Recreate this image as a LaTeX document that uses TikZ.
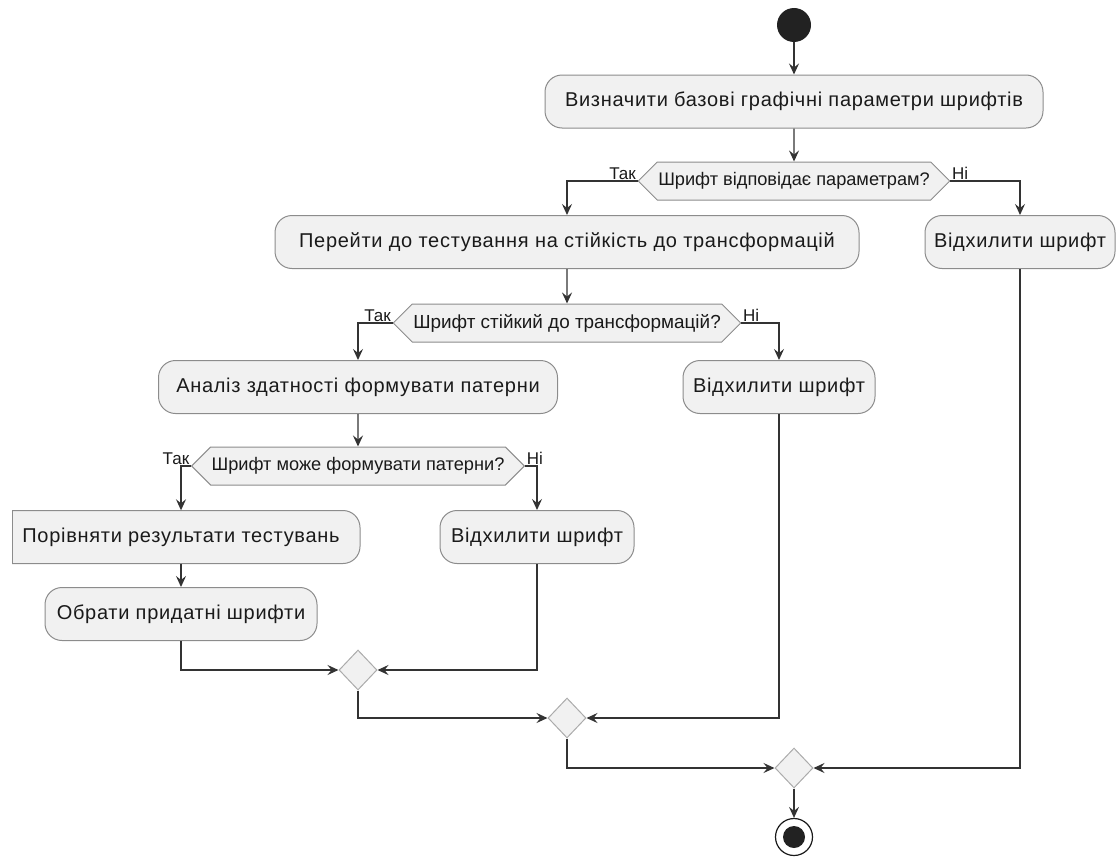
\documentclass[tikz,border=0pt]{standalone}
\usepackage{fontspec}
\setmainfont{Liberation Sans}
\newfontfamily\boxfont{Liberation Sans}[LetterSpace=3.5]
\usetikzlibrary{arrows.meta,shapes.symbols,shapes.geometric}
\definecolor{boxfill}{HTML}{F1F1F1}
\definecolor{boxline}{HTML}{8C8C8C}
\definecolor{mrgline}{HTML}{ABABAB}
\definecolor{lnk}{HTML}{333333}
\definecolor{txt}{HTML}{1A1A1A}
\definecolor{dot}{HTML}{222222}
\begin{document}
\begin{tikzpicture}[x=1pt,y=-1pt,
  act/.style={draw=boxline, fill=boxfill, line width=1pt, rounded corners=17pt, minimum height=53pt, inner sep=0pt, text=txt, font=\boxfont\fontsize{20}{24}\selectfont},
  acttext/.style={minimum height=53pt, inner sep=0pt, text=txt, font=\boxfont\fontsize{20}{24}\selectfont},
  dec/.style={signal, signal to=west and east, signal pointer angle=90, draw=boxline, fill=boxfill, line width=1pt, minimum height=38pt, inner xsep=1pt, inner ysep=0pt, text=txt, font=\fontsize{18.2}{21}\selectfont},
  mrg/.style={diamond, draw=mrgline, fill=boxfill, line width=1pt, minimum width=38pt, minimum height=40pt, inner sep=0pt},
  lbl/.style={text=txt, font=\fontsize{17}{20}\selectfont, inner sep=1.5pt},
  flow/.style={draw=lnk, line width=1.3pt, -{Stealth[length=11pt,width=10pt,inset=4pt]}},
]
\useasboundingbox (0,0) rectangle (1118,859);

\node[circle, fill=dot, minimum size=34pt, inner sep=0pt] (start) at (794,25) {};
\node[act, minimum width=498pt] (b1) at (794,101.5) {Визначити базові графічні параметри шрифтів};
\node[dec] (d1) at (794,181) {Шрифт відповідає параметрам?};
\node[act, minimum width=584pt] (b2) at (567,242) {Перейти до тестування на стійкість до трансформацій};
\node[act, minimum width=190pt] (r1) at (1020,242) {Відхилити шрифт};
\node[dec, font=\fontsize{18.9}{22}\selectfont] (d2) at (567,323) {Шрифт стійкий до трансформацій?};
\node[act, minimum width=399pt] (b3) at (358,387) {Аналіз здатності формувати патерни};
\node[act, minimum width=192pt] (r2) at (779,387) {Відхилити шрифт};
\node[dec] (d3) at (358,466) {Шрифт може формувати патерни?};
\path[draw=boxline, fill=boxfill, line width=1pt, rounded corners=17pt] (12,510.5) -- (360,510.5) -- (360,563.5) -- (12,563.5);
\draw[draw=boxline, line width=1pt] (12,510.5) -- (12,563.5);
\node[acttext] (b4) at (181,537) {Порівняти результати тестувань};
\node[act, minimum width=194pt] (r3) at (537,537) {Відхилити шрифт};
\node[act, minimum width=272pt] (b5) at (181,614) {Обрати придатні шрифти};
\node[mrg] (m1) at (358,670) {};
\node[mrg] (m2) at (567,718) {};
\node[mrg] (m3) at (794,768) {};
\node[circle, draw=txt, line width=1.2pt, minimum size=37pt, inner sep=0pt] (end) at (794,837) {};
\node[circle, fill=dot, minimum size=22pt, inner sep=0pt] (enddot) at (end) {};

\draw[flow] (start) -- (b1);
\draw[flow] (b1) -- (d1);
\draw[flow] (d1.west) -| (b2.north);
\draw[flow] (d1.east) -| (r1.north);
\node[lbl, anchor=south east] (t1) at (d1.west) {Так};
\node[lbl, anchor=south west] (n1) at (d1.east) {Ні};
\draw[flow] (b2) -- (d2);
\draw[flow] (d2.west) -| (b3.north);
\draw[flow] (d2.east) -| (r2.north);
\node[lbl, anchor=south east] (t2) at (d2.west) {Так};
\node[lbl, anchor=south west] (n2) at (d2.east) {Ні};
\draw[flow] (b3) -- (d3);
\draw[flow] (d3.west) -| (b4.north);
\draw[flow] (d3.east) -| (r3.north);
\node[lbl, anchor=south east] (t3) at (d3.west) {Так};
\node[lbl, anchor=south west] (n3) at (d3.east) {Ні};
\draw[flow] (b4.south) -- (b5.north);
\draw[flow] (b5.south) |- (m1.west);
\draw[flow] (r3.south) |- (m1.east);
\draw[flow] (m1.south) |- (m2.west);
\draw[flow] (r2.south) |- (m2.east);
\draw[flow] (m2.south) |- (m3.west);
\draw[flow] (r1.south) |- (m3.east);
\draw[flow] (m3) -- (end);
\end{tikzpicture}
\end{document}
